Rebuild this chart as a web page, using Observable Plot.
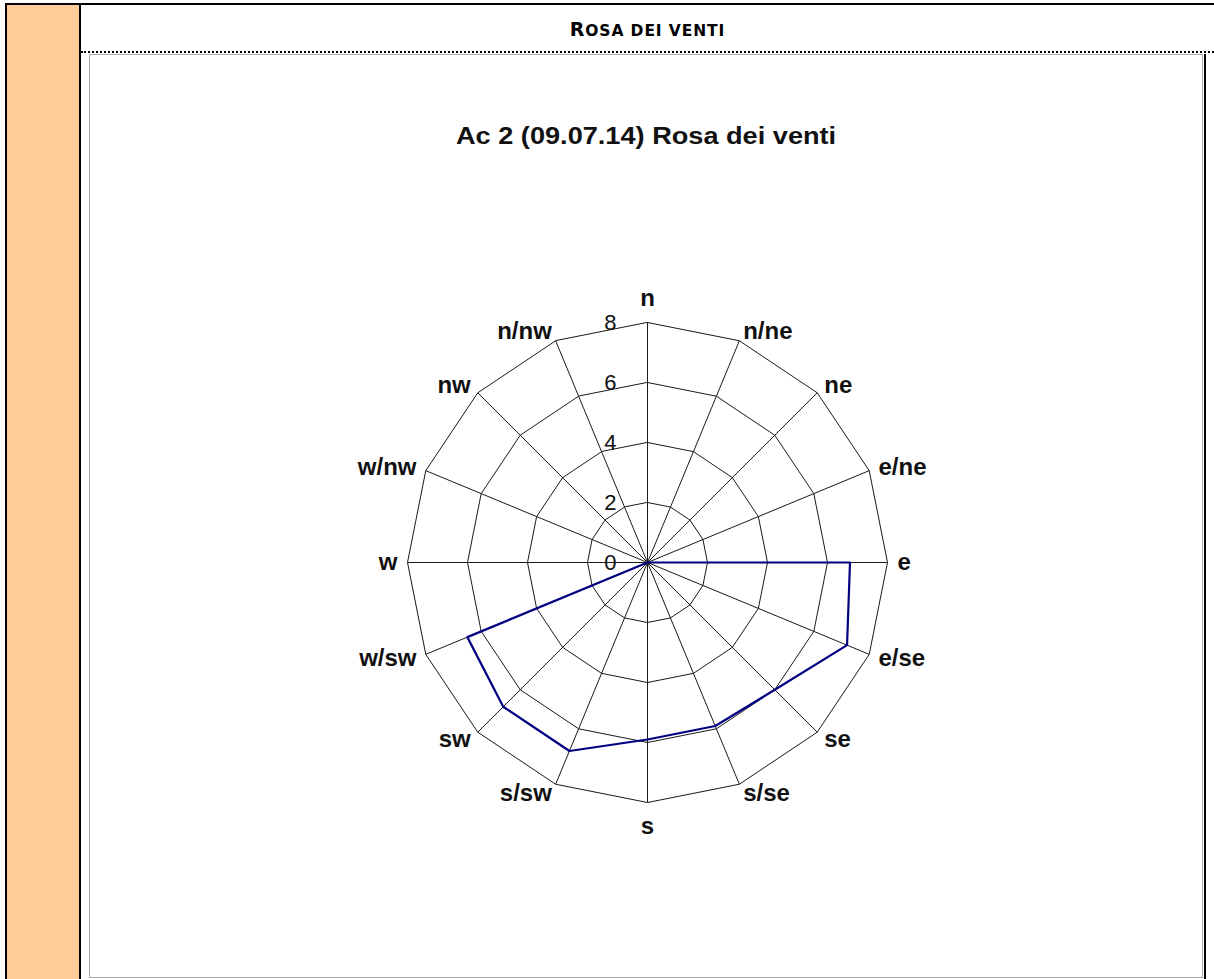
<!DOCTYPE html>
<html><head><meta charset="utf-8">
<script src="https://cdn.jsdelivr.net/npm/d3@7"></script>
<script src="https://cdn.jsdelivr.net/npm/@observablehq/plot@0.6"></script>
<style>
html,body{margin:0;padding:0;background:#fff;}
#page{position:relative;width:1214px;height:979px;overflow:hidden;background:#fff;}
.abs{position:absolute;}
#header{left:81px;width:1133px;top:18px;line-height:22px;text-align:center;font-family:"DejaVu Sans",Verdana,sans-serif;font-weight:bold;font-size:15.5px;color:#000;letter-spacing:0.9px;}
#header .big{font-size:19px;}
#title{left:89px;width:1114px;top:123px;line-height:26px;text-align:center;font-family:"Liberation Sans",Arial,sans-serif;font-weight:bold;font-size:23px;color:#111;}
#title span{display:inline-block;transform:scaleX(1.18);transform-origin:50% 50%;}
#chart{left:89px;top:54px;}
#box{left:89px;top:54px;width:1114px;height:924px;box-sizing:border-box;border:1px solid #a8a8a8;border-right-color:#b0b0b0;}
</style></head><body>
<div id="page">
  <div class="abs" style="left:7px;top:5px;width:72px;height:974px;background:#FFCC99;"></div>
  <div class="abs" style="left:5px;top:3px;width:1209px;height:2px;background:#000;"></div>
  <div class="abs" style="left:5px;top:3px;width:2px;height:976px;background:#000;"></div>
  <div class="abs" style="left:79px;top:3px;width:2px;height:976px;background:#000;"></div>
  <div class="abs" style="left:81px;top:51px;width:1133px;height:0;border-top:2px dotted #000;"></div>
  <div class="abs" style="left:1204px;top:54px;width:2px;height:925px;background:#000;"></div>
  <div id="header" class="abs"><span class="big">R</span>OSA DEI VENTI</div>
  <div id="chart" class="abs"></div>
  <div id="box" class="abs"></div>
  <div id="title" class="abs"><span>Ac 2 (09.07.14) Rosa dei venti</span></div>
</div>
<script>
// ---- data ----
const directions = ["n","n/ne","ne","e/ne","e","e/se","se","s/se","s","s/sw","sw","w/sw","w","w/nw","nw","n/nw"];
const speeds     = [0,   0,     0,   0,     6.75, 7.2,  6.0, 5.9,  5.9, 6.8,  6.8, 6.5,  0,  0,     0,   0];
const ringValues = [2, 4, 6, 8];
const tickLabels = ["0", "2", "4", "6", "8"];

// ---- geometry helpers ----
const W = 1114, H = 924;
const unit = 30;            // pixels per data unit
const cx = 558, cy = 508;   // centre of the rose inside the svg
const rMax = d3.max(ringValues);
const ang = i => i * 2 * Math.PI / directions.length;
const px = (r, i) => r * Math.sin(ang(i));
const py = (r, i) => r * Math.cos(ang(i));

const ringPoints = ringValues.flatMap(v => directions.map((d, i) => ({ring: v, x: px(v, i), y: py(v, i)})));
const spokes = directions.map((d, i) => ({x2: px(rMax, i), y2: py(rMax, i)}));
const series = directions.map((d, i) => ({x: px(speeds[i], i), y: py(speeds[i], i)}));
const labels = directions.map((name, i) => {
  const s = Math.sin(ang(i));
  const vertical = Math.abs(s) < 0.1;
  const r = rMax + (vertical ? 24 : 10) / unit;
  return {name, x: px(r, i), y: py(r, i), anchor: vertical ? "middle" : (s > 0 ? "start" : "end")};
});

const font = "'Liberation Sans', Arial, sans-serif";
const plot = Plot.plot({
  width: W, height: H, margin: 0,
  style: {fontFamily: font, background: "transparent", overflow: "visible"},
  x: {type: "linear", domain: [-cx / unit, (W - cx) / unit], range: [0, W], axis: null},
  y: {type: "linear", domain: [-(H - cy) / unit, cy / unit], range: [H, 0], axis: null},
  marks: [
    Plot.line(ringPoints, {x: "x", y: "y", z: "ring", curve: "linear-closed", stroke: "#1a1a1a", strokeWidth: 1}),
    Plot.link(spokes, {x1: () => 0, y1: () => 0, x2: "x2", y2: "y2", stroke: "#1a1a1a", strokeWidth: 1}),
    Plot.line(series, {x: "x", y: "y", curve: "linear-closed", stroke: "#000080", strokeWidth: 2.2}),
    Plot.text(tickLabels, {x: () => -31 / unit, y: d => +d, text: d => d, textAnchor: "end", fontSize: 22, fill: "#111"}),
    ...["start", "middle", "end"].map(a =>
      Plot.text(labels.filter(l => l.anchor === a), {x: "x", y: "y", text: "name", textAnchor: a, fontSize: 24, fontWeight: "bold", fill: "#111"}))
  ]
});
document.getElementById("chart").appendChild(plot);
</script>
</body></html>
